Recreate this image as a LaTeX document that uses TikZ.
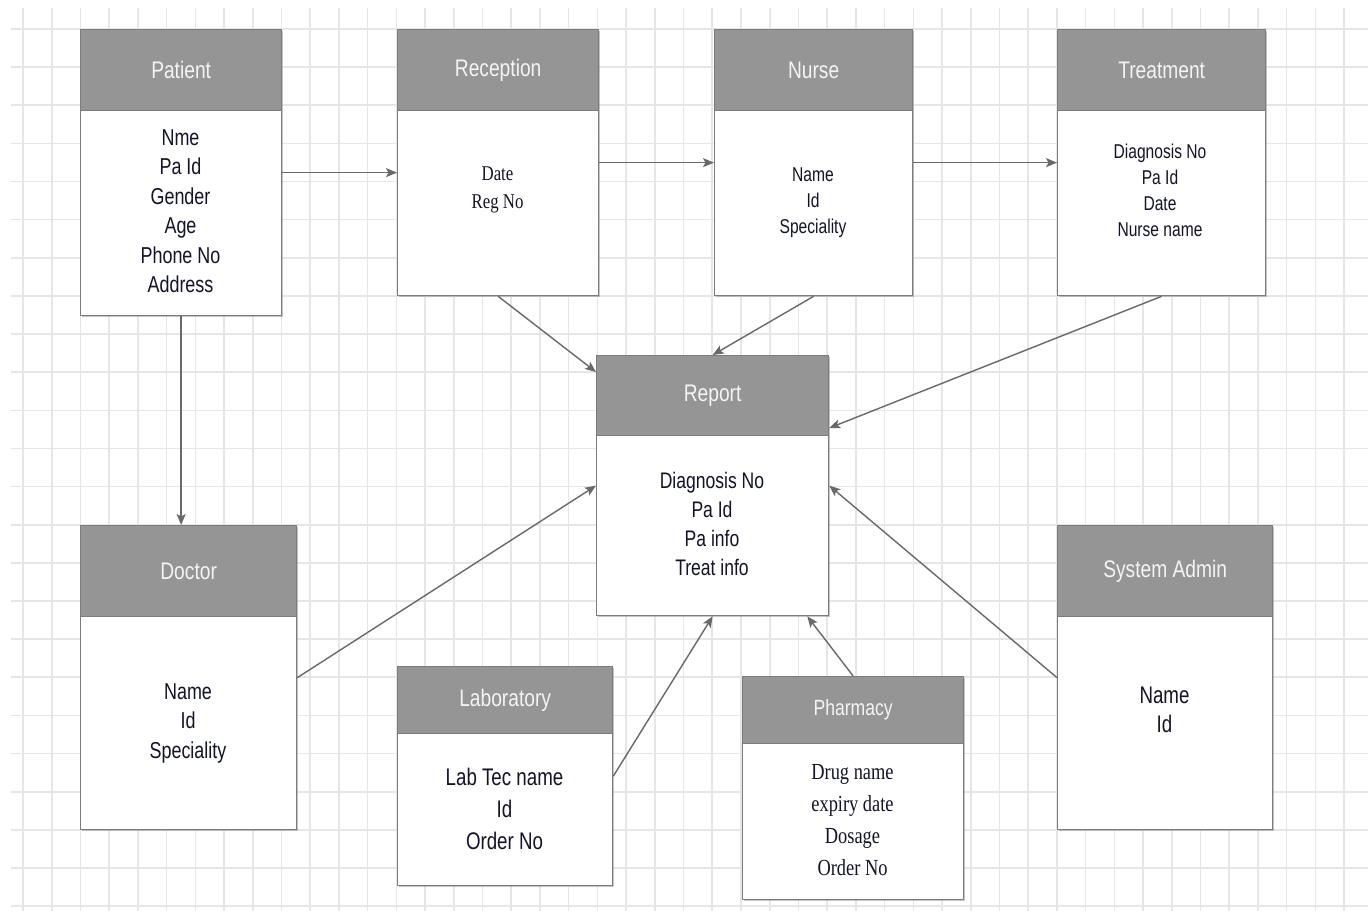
\documentclass[tikz,border=0pt]{standalone}
\usepackage{fontspec}
\setmainfont{Liberation Sans}[FakeStretch=0.78]
\newfontfamily\headfont{Liberation Sans}[FakeStretch=0.8]
\newfontfamily\serffont{Liberation Serif}[FakeStretch=0.8]
\usetikzlibrary{arrows.meta,calc,shadows}

\definecolor{gridc}{HTML}{E6E6E6}
\definecolor{edgec}{HTML}{7C7C7C}
\definecolor{hdrfill}{HTML}{959595}
\definecolor{hdrtext}{HTML}{F4F4F4}
\definecolor{arrowc}{HTML}{696969}
\definecolor{bodytext}{HTML}{141428}

\tikzset{
  gridline/.style={draw=gridc, line width=1.6pt},
  ebox/.style={draw=edgec, line width=1.3pt, fill=white, rectangle, inner sep=0pt,
    anchor=north west,
    drop shadow={shadow xshift=1.3pt, shadow yshift=-1.3pt, fill=black!50, opacity=0.45}},
  ehead/.style={draw=edgec, line width=1.3pt, fill=hdrfill, rectangle, inner sep=0pt,
    anchor=north west, text=hdrtext, font=\headfont\fontsize{24}{28}\selectfont},
  etext/.style={align=center, text=bodytext, inner sep=0pt},
  link/.style={draw=arrowc, line width=1.4pt,
    -{Stealth[length=11pt, width=9pt, inset=2.5pt]}},
}

\begin{document}
\begin{tikzpicture}[x=1pt, y=-1pt]
  \useasboundingbox (0,0) rectangle (1368,911);
  \fill[white] (0,0) rectangle (1368,911);

  % background grid
  \foreach \k in {0,...,46}
    \draw[gridline] ({23+28.72*\k},8) -- ({23+28.72*\k},911);
  \foreach \k in {0,...,23}
    \draw[gridline] (11,{28.9+38.14*\k}) -- (1368,{28.9+38.14*\k});

  % entity boxes: outer frame, header band, attribute list
  \node[ebox, minimum width=201pt, minimum height=286pt] (patient) at (80,29) {};
  \node[ehead, minimum width=201pt, minimum height=81pt] (patientH) at (patient.north west) {Patient};
  \node[etext, font=\fontsize{23}{29.5}\selectfont] (patientT) at (180.5,211)
    {Nme\\Pa Id\\Gender\\Age\\Phone No\\Address};

  \node[ebox, minimum width=201pt, minimum height=266pt] (reception) at (397,29) {};
  \node[ehead, minimum width=201pt, minimum height=81pt] (receptionH) at (reception.north west) {Reception};
  \node[etext, font=\serffont\fontsize{21}{28}\selectfont] (receptionT) at (497.5,190)
    {Date\\Reg No};

  \node[ebox, minimum width=198pt, minimum height=266pt] (nurse) at (714,29) {};
  \node[ehead, minimum width=198pt, minimum height=81pt] (nurseH) at (nurse.north west) {Nurse};
  \node[etext, font=\fontsize{20}{26}\selectfont] (nurseT) at (813,203)
    {Name\\Id\\Speciality};

  \node[ebox, minimum width=208pt, minimum height=266pt] (treatment) at (1057,29) {};
  \node[ehead, minimum width=208pt, minimum height=81pt] (treatmentH) at (treatment.north west) {Treatment};
  \node[etext, font=\fontsize{20}{26}\selectfont] (treatmentT) at (1160,190)
    {Diagnosis No\\Pa Id\\Date\\Nurse name};

  \node[ebox, minimum width=232pt, minimum height=260pt] (report) at (596,355) {};
  \node[ehead, minimum width=232pt, minimum height=80pt] (reportH) at (report.north west) {Report};
  \node[etext, font=\fontsize{22.5}{29}\selectfont] (reportT) at (712,524)
    {Diagnosis No\\Pa Id\\Pa info\\Treat info};

  \node[ebox, minimum width=216pt, minimum height=304pt] (doctor) at (80,525) {};
  \node[ehead, minimum width=216pt, minimum height=91pt] (doctorH) at (doctor.north west) {Doctor};
  \node[etext, font=\fontsize{23}{29.5}\selectfont] (doctorT) at (188,723)
    {Name\\Id\\Speciality};

  \node[ebox, minimum width=215pt, minimum height=219pt] (lab) at (397,666) {};
  \node[ehead, minimum width=215pt, minimum height=67pt] (labH) at (lab.north west) {Laboratory};
  \node[etext, font=\fontsize{24}{32}\selectfont] (labT) at (504.5,809)
    {Lab Tec name\\Id\\Order No};

  \node[ebox, minimum width=221pt, minimum height=223pt] (pharmacy) at (742,676) {};
  \node[ehead, minimum width=221pt, minimum height=67pt, font=\headfont\fontsize{22}{26}\selectfont]
    (pharmacyH) at (pharmacy.north west) {Pharmacy};
  \node[etext, font=\serffont\fontsize{23}{32}\selectfont] (pharmacyT) at (852.5,820)
    {Drug name\\expiry date\\Dosage\\Order No};

  \node[ebox, minimum width=215pt, minimum height=304pt] (admin) at (1057,525) {};
  \node[ehead, minimum width=215pt, minimum height=91pt] (adminH) at (admin.north west) {System Admin};
  \node[etext, font=\fontsize{24}{29.5}\selectfont] (adminT) at (1164.5,710)
    {Name\\Id};

  % relationships
  \draw[link] (patient.east) -- (patient.east -| reception.west);
  \draw[link] (reception.east) -- (nurse.west);
  \draw[link] (nurse.east) -- (treatment.west);
  \draw[link] (patient.south) -- (patient.south |- doctor.north);
  \draw[link] (reception.south) -- ($(report.north west)+(0,17)$);
  \draw[link] (nurse.south) -- (report.north);
  \draw[link] (treatment.south) -- ($(report.north east)+(0,73)$);
  \draw[link] (doctor.east) -- (report.west);
  \draw[link] (lab.east) -- (report.south);
  \draw[link] (pharmacy.north) -- ($(report.south east)+(-22,0)$);
  \draw[link] (admin.west) -- (report.east);
\end{tikzpicture}
\end{document}
